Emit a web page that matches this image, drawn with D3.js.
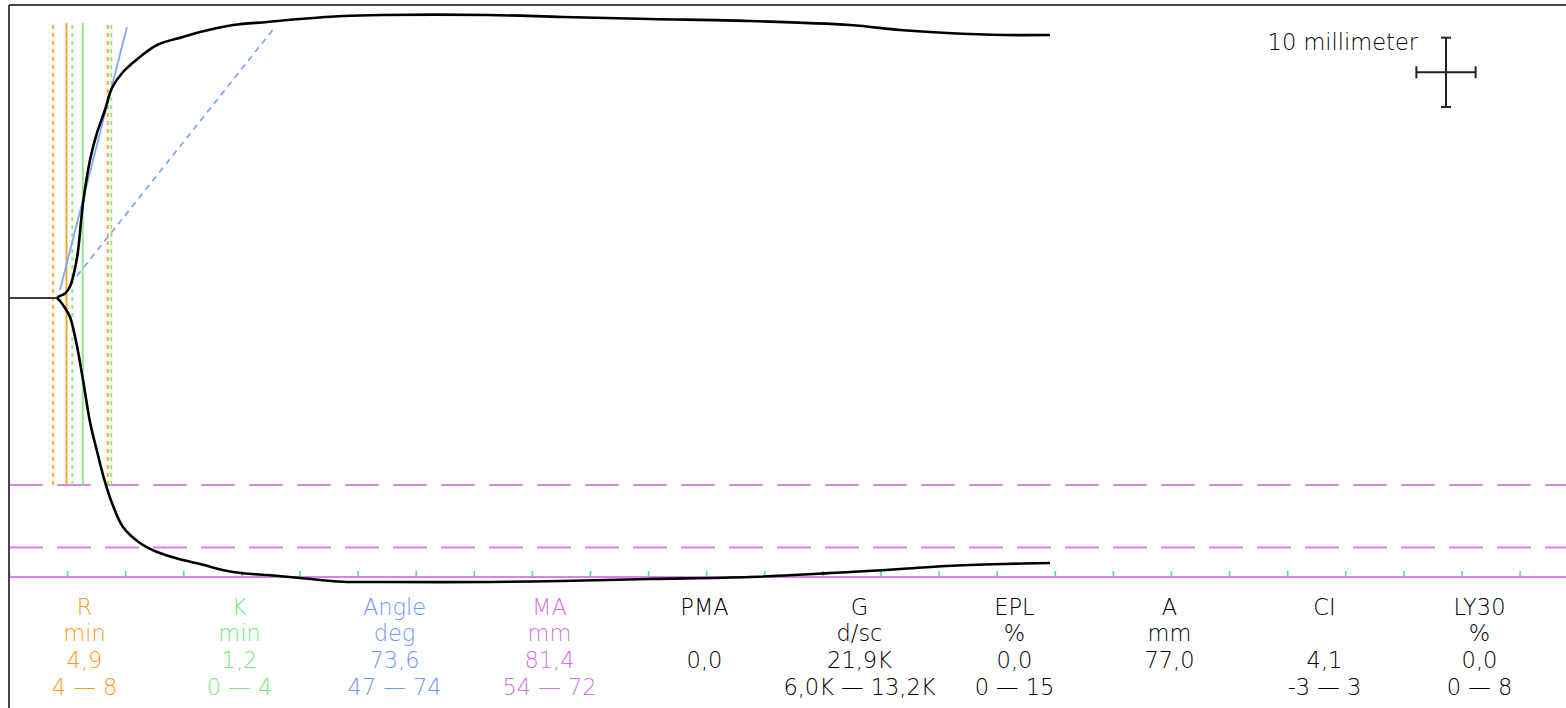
<!DOCTYPE html>
<html><head><meta charset="utf-8">
<script src="https://cdn.jsdelivr.net/npm/d3@7"></script>
<style>html,body{margin:0;padding:0;background:#fff;overflow:hidden}</style>
</head><body><svg id="c" width="1566" height="708"></svg>
<script>
// ---------------- data ----------------
const tickMinutes = d3.range(0, 131, 5);
const curveTime  = [0, 4.13, 4.39, 4.82, 5.25, 5.85, 6.37, 6.97, 7.57, 8.26, 8.86, 9.81, 11.27, 12.74, 14.97, 16.44, 19.28, 22.2, 25.04, 28.74, 32.1, 41.22, 47.68, 55.16, 63.77, 72.38, 76.68, 80.72, 85.71, 89.59];
const upperHalf  = [0, 0, 0.29, 0.65, 1.66, 5.77, 13.7, 19.91, 23.81, 27.13, 30.3, 32.61, 34.78, 36.51, 37.66, 38.38, 39.39, 39.83, 40.26, 40.69, 40.84, 40.84, 40.55, 40.26, 39.97, 39.39, 38.67, 38.24, 37.95, 37.95];
const lowerHalf  = [0, 0, 0.43, 1.44, 2.74, 6.93, 11.83, 17.89, 22.08, 26.55, 29.58, 33.04, 35.35, 36.65, 37.81, 38.38, 39.54, 39.97, 40.4, 40.94, 40.98, 40.98, 40.84, 40.55, 40.26, 39.54, 39.11, 38.67, 38.38, 38.24];

const refLineTime  = [3.8, 4.95, 5.45, 6.35, 8.5, 8.8];
const refLineParam = ["R", "R", "K", "K", "R", "K"];
const refLineKind  = ["limit", "value", "limit", "value", "limit", "limit"];

const angleLineTime = [[4.39, 10.15], [5.85, 22.7]];
const angleLineAmp  = [[1.15, 39.1], [3.2, 38.7]];
const angleLineKind = ["value", "limit"];

const maRange = [54, 72];
const scaleBarMm = 10;
const scaleBarLabel = "10 millimeter";

const paramNames  = ["R", "K", "Angle", "MA", "PMA", "G", "EPL", "A", "CI", "LY30"];
const paramUnits  = ["min", "min", "deg", "mm", "", "d/sc", "%", "mm", "", "%"];
const paramValues = ["4,9", "1,2", "73,6", "81,4", "0,0", "21,9K", "0,0", "77,0", "4,1", "0,0"];
const paramRanges = ["4 — 8", "0 — 4", "47 — 74", "54 — 72", "", "6,0K — 13,2K", "0 — 15", "", "-3 — 3", "0 — 8"];

// ---------------- styles ----------------
const colorOf = {R: "#ffa530", K: "#8cec8c", Angle: "#7fa6ff", MA: "#d884e6"};
const textColorOf = {R: "#ff9a1c", K: "#78e678", Angle: "#6f98ff", MA: "#d274e2"};
const textColor = p => textColorOf[p] || "#000";
const FONT = "'DejaVu Sans', Verdana, sans-serif";
const FONT_SIZE = 22.5;

const W = 1566, H = 708;
const frameLeft = 9, frameTop = 5;
const pxPerMin = 11.62, pxPerMm = 6.93, centerY = 298, axisY = 577;

const x = d3.scaleLinear().domain([0, (W - frameLeft) / pxPerMin]).range([frameLeft, W]);
const y = d3.scaleLinear().domain([-40, 40]).range([centerY + 40 * pxPerMm, centerY - 40 * pxPerMm]);

const svg = d3.select("#c");
svg.append("rect").attr("width", W).attr("height", H).attr("fill", "#fff");

// MA range dashed lines (lower side)
svg.append("g").selectAll("line").data(maRange).join("line")
  .attr("x1", frameLeft).attr("x2", W)
  .attr("y1", d => y(-d / 2)).attr("y2", d => y(-d / 2))
  .attr("stroke", colorOf.MA).attr("stroke-width", 2)
  .attr("stroke-dasharray", "34,14");

// axis baseline
svg.append("line").attr("x1", frameLeft).attr("x2", W).attr("y1", axisY).attr("y2", axisY)
  .attr("stroke", colorOf.MA).attr("stroke-width", 2);

const axis = svg.append("g").attr("transform", `translate(0,${axisY - 1})`)
  .call(d3.axisTop(x).tickValues(tickMinutes).tickSize(5).tickFormat(""));
axis.select(".domain").remove();
axis.selectAll(".tick line").attr("stroke", "#5ec4f0").attr("stroke-width", 1.6);

// vertical R / K lines
svg.append("g").selectAll("line").data(refLineTime).join("line")
  .attr("x1", d => x(d)).attr("x2", d => x(d))
  .attr("y1", y(-maRange[0] / 2)).attr("y2", y(39.7))
  .attr("stroke", (d, i) => colorOf[refLineParam[i]])
  .attr("stroke-width", 2)
  .attr("stroke-dasharray", (d, i) => refLineKind[i] === "limit" ? "4,4" : null);

// angle lines
svg.append("g").selectAll("line").data(angleLineTime).join("line")
  .attr("x1", d => x(d[0])).attr("x2", d => x(d[1]))
  .attr("y1", (d, i) => y(angleLineAmp[i][0])).attr("y2", (d, i) => y(angleLineAmp[i][1]))
  .attr("stroke", colorOf.Angle).attr("stroke-width", 1.8)
  .attr("stroke-dasharray", (d, i) => angleLineKind[i] === "limit" ? "6,5" : null);

// trace
const idx = d3.range(curveTime.length);
const flat = idx.filter(i => upperHalf[i] === 0 && lowerHalf[i] === 0);
const grown = idx.filter(i => i >= flat[flat.length - 1]);
svg.append("line").attr("x1", x(curveTime[flat[0]])).attr("x2", x(curveTime[flat[flat.length - 1]]))
  .attr("y1", y(0)).attr("y2", y(0)).attr("stroke", "#000").attr("stroke-width", 1.6);
const upLine = d3.line().x(i => x(curveTime[i])).y(i => y(upperHalf[i])).curve(d3.curveCatmullRom.alpha(0.5));
const loLine = d3.line().x(i => x(curveTime[i])).y(i => y(-lowerHalf[i])).curve(d3.curveCatmullRom.alpha(0.5));
svg.append("path").attr("d", upLine(grown)).attr("fill", "none").attr("stroke", "#000").attr("stroke-width", 2.6);
svg.append("path").attr("d", loLine(grown)).attr("fill", "none").attr("stroke", "#000").attr("stroke-width", 2.6);

// frame
svg.append("line").attr("x1", frameLeft).attr("x2", W).attr("y1", frameTop).attr("y2", frameTop).attr("stroke", "#444").attr("stroke-width", 2);
svg.append("line").attr("x1", frameLeft).attr("x2", frameLeft).attr("y1", frameTop).attr("y2", H).attr("stroke", "#444").attr("stroke-width", 2);

// scale bar
const sbX = 1446, sbY = 72.3;
const hw = (x(5) - x(0)) / 2 + 0.6, hh = scaleBarMm * pxPerMm / 2;
const sb = svg.append("g").attr("stroke", "#222").attr("stroke-width", 2);
sb.append("line").attr("x1", sbX - hw).attr("x2", sbX + hw).attr("y1", sbY).attr("y2", sbY);
sb.append("line").attr("x1", sbX).attr("x2", sbX).attr("y1", sbY - hh).attr("y2", sbY + hh);
sb.append("line").attr("x1", sbX - 5).attr("x2", sbX + 5).attr("y1", sbY - hh).attr("y2", sbY - hh);
sb.append("line").attr("x1", sbX - 5).attr("x2", sbX + 5).attr("y1", sbY + hh).attr("y2", sbY + hh);
sb.append("line").attr("x1", sbX - hw).attr("x2", sbX - hw).attr("y1", sbY - 6).attr("y2", sbY + 6);
sb.append("line").attr("x1", sbX + hw).attr("x2", sbX + hw).attr("y1", sbY - 6).attr("y2", sbY + 6);
svg.append("text").attr("x", 1418).attr("y", 50).attr("text-anchor", "end")
  .attr("font-family", FONT).attr("font-size", FONT_SIZE).attr("font-weight", 300).attr("fill", "#000").text(scaleBarLabel);

// parameter table
const col = d3.scaleBand().domain(paramNames).range([7, 7 + 155 * paramNames.length]);
const rows = [paramNames, paramUnits, paramValues, paramRanges];
const rowY = [615, 641, 668, 695];
const tg = svg.append("g").attr("font-family", FONT).attr("font-size", FONT_SIZE).attr("font-weight", 300).attr("text-anchor", "middle");
rows.forEach((arr, r) => {
  tg.append("g").selectAll("text").data(arr).join("text")
    .attr("x", (d, i) => col(paramNames[i]) + col.bandwidth() / 2)
    .attr("y", rowY[r])
    .attr("fill", (d, i) => textColor(paramNames[i]))
    .text(d => d);
});
</script></body></html>
